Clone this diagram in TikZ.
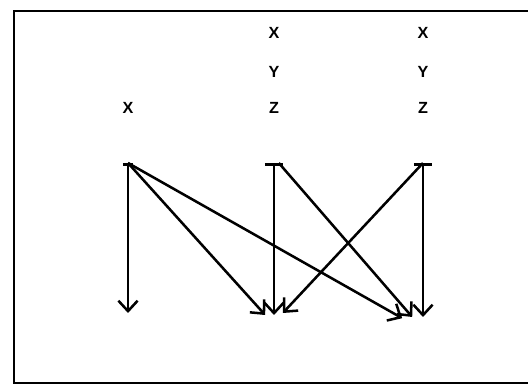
\documentclass[tikz,border=0pt]{standalone}
\usepackage{fontspec}
\setmainfont{Liberation Sans}
\usepackage{tikz}
\usetikzlibrary{arrows.meta}

\begin{document}
\begin{tikzpicture}[
  font=\fontsize{11.5}{13}\selectfont\bfseries,
  >=Stealth,
  lbl/.style={inner sep=1pt},
  arrow/.style={-{Straight Barb[length=2.6mm,width=4.8mm]},line width=1.8pt},
  bararrow/.style={{Bar[width=4.6mm]}-{Straight Barb[length=2.6mm,width=4.8mm]},line width=1.8pt},
  frame/.style={line width=1.6pt}
]
  \useasboundingbox (0,0) rectangle (13.2,9.65);
  \draw[frame] (13.2,9.375) -- (0.35,9.375) -- (0.35,0.075) -- (13.2,0.075);

  % labels
  \node[lbl] (x1) at (3.2,6.95) {X};
  \node[lbl] (x2) at (6.85,8.825) {X};
  \node[lbl] (y2) at (6.85,7.85) {Y};
  \node[lbl] (z2) at (6.85,6.95) {Z};
  \node[lbl] (x3) at (10.575,8.825) {X};
  \node[lbl] (y3) at (10.575,7.85) {Y};
  \node[lbl] (z3) at (10.575,6.95) {Z};

  % tops and bottoms
  \coordinate (t1) at (3.2,5.575);
  \coordinate (t2) at (6.85,5.575);
  \coordinate (t3) at (10.575,5.575);
  \coordinate (b1) at (3.2,1.825);
  \coordinate (b2) at (6.85,1.775);
  \coordinate (b3) at (10.575,1.725);

  \draw[{Bar[width=2.6mm]}-{Straight Barb[length=2.6mm,width=4.8mm]},line width=1.8pt] (t1) -- (b1);
  \draw[bararrow] (t2) -- (b2);
  \draw[bararrow] (t3) -- (b3);

  \draw[arrow] (t1) -- ([xshift=-0.22cm]b2);
  \draw[arrow] (t1) -- ([xshift=-0.52cm,yshift=-0.03cm]b3);
  \draw[arrow] ([xshift=0.12cm]t2) -- ([xshift=-0.27cm]b3);
  \draw[arrow] (t3) -- ([xshift=0.22cm,yshift=0.05cm]b2);
\end{tikzpicture}
\end{document}
